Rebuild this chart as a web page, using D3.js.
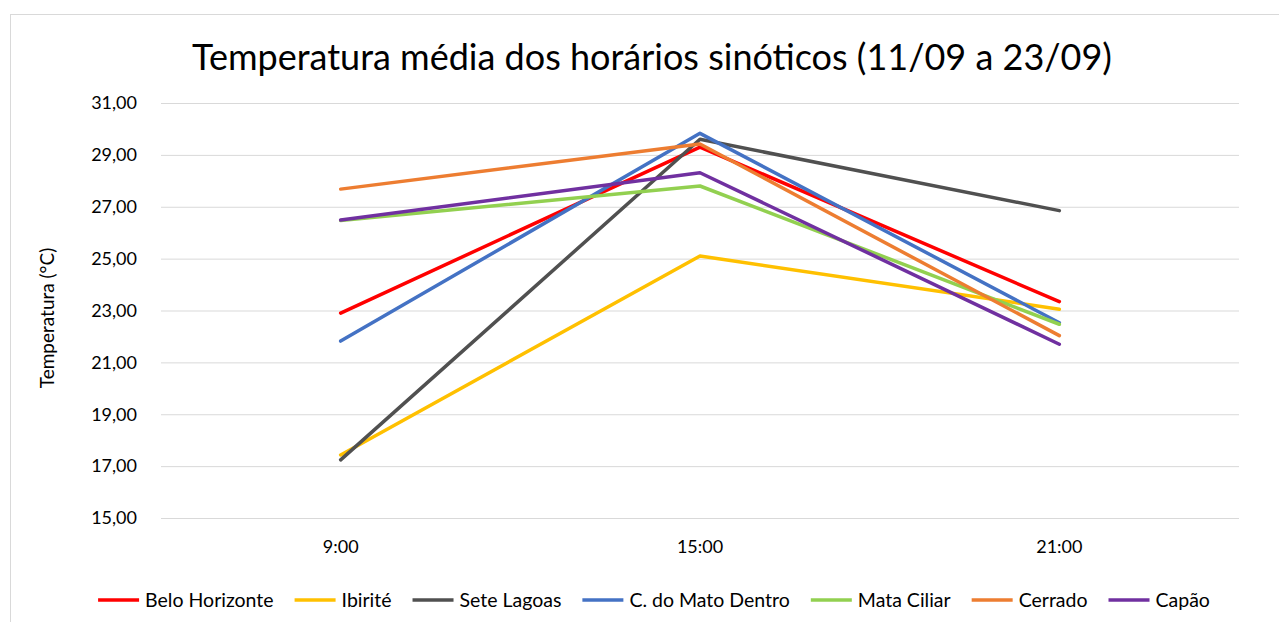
<!DOCTYPE html>
<html>
<head>
<meta charset="utf-8">
<script src="https://cdn.jsdelivr.net/npm/d3@7"></script>
<style>
  body { margin: 0; background: #fff; }
  svg text { font-family: Lato, "Open Sans", sans-serif; fill: #000; }
</style>
</head>
<body>
<svg id="chart" width="1279" height="622"></svg>
<script>
// data
const hours = ["9:00", "15:00", "21:00"];
const yTicks = [15, 17, 19, 21, 23, 25, 27, 29, 31];

const beloHorizonte = [22.90, 29.30, 23.34];
const ibirite = [17.43, 25.10, 23.05];
const seteLagoas = [17.24, 29.60, 26.85];
const matoDentro = [21.82, 29.83, 22.53];
const mataCiliar = [26.47, 27.80, 22.47];
const cerrado = [27.68, 29.42, 22.03];
const capao = [26.49, 28.31, 21.70];

const seriesNames = ["Belo Horizonte", "Ibirité", "Sete Lagoas", "C. do Mato Dentro", "Mata Ciliar", "Cerrado", "Capão"];
const seriesValues = [beloHorizonte, ibirite, seteLagoas, matoDentro, mataCiliar, cerrado, capao];
const seriesColors = ["#ff0000", "#ffc000", "#505050", "#4472c4", "#92d050", "#ed7d31", "#7030a0"];

const series = seriesNames.map((name, i) => ({
  name,
  color: seriesColors[i],
  values: seriesValues[i].map((v, j) => ({ hour: hours[j], v })),
}));

// settings
const margin = { top: 103, right: 40, bottom: 104, left: 161 };
const width = 1279;
const height = 622;
const plotWidth = width - margin.left - margin.right;
const plotHeight = height - margin.top - margin.bottom;

const svg = d3.select("#chart");

// chart border
svg.append("rect")
  .attr("x", 10.5)
  .attr("y", 14.5)
  .attr("width", width)
  .attr("height", height)
  .attr("fill", "none")
  .attr("stroke", "#d9d9d9");

const plot = svg.append("g")
  .attr("transform", `translate(${margin.left}, ${margin.top})`);

// scales, axes
const xScale = d3.scaleBand().domain(hours).range([0, plotWidth]);
const yScale = d3.scaleLinear().domain([15, 31]).range([plotHeight, 0]);

const fmt = (d) => d.toFixed(2).replace(".", ",");

const yAxis = d3.axisLeft(yScale)
  .tickValues(yTicks)
  .tickSize(-plotWidth)
  .tickPadding(24)
  .tickFormat(fmt);

const yAxisG = plot.append("g").call(yAxis);
yAxisG.select(".domain").remove();
yAxisG.selectAll(".tick line").attr("stroke", "#d9d9d9").attr("stroke-width", 1);
yAxisG.selectAll(".tick text").attr("font-size", 18).attr("fill", "#000");

const xAxis = d3.axisBottom(xScale).tickSize(0).tickPadding(22);
const xAxisG = plot.append("g")
  .attr("transform", `translate(0, ${plotHeight})`)
  .call(xAxis);
xAxisG.select(".domain").remove();
xAxisG.selectAll(".tick text").attr("font-size", 18).attr("fill", "#000");

// lines
const lineGen = d3.line()
  .x((d) => xScale(d.hour) + xScale.bandwidth() / 2)
  .y((d) => yScale(d.v));

plot.selectAll(".line")
  .data(series)
  .join("path")
  .attr("class", "line")
  .attr("fill", "none")
  .attr("stroke", (d) => d.color)
  .attr("stroke-width", 3.5)
  .attr("stroke-linejoin", "round")
  .attr("stroke-linecap", "round")
  .attr("d", (d) => lineGen(d.values));

// title
svg.append("text")
  .attr("x", 652)
  .attr("y", 70)
  .attr("text-anchor", "middle")
  .attr("font-size", 36)
  .text("Temperatura média dos horários sinóticos (11/09 a 23/09)");

// y title
svg.append("text")
  .attr("transform", `translate(54, ${margin.top + 215}) rotate(-90)`)
  .attr("text-anchor", "middle")
  .attr("font-size", 19)
  .text("Temperatura (°C)");

// legend
const legend = svg.append("g");
const swatch = 41;
let lx = 0;
series.forEach((s) => {
  const item = legend.append("g").attr("transform", `translate(${lx}, 0)`);
  item.append("line")
    .attr("x1", 0).attr("x2", swatch)
    .attr("y1", 0).attr("y2", 0)
    .attr("stroke", s.color)
    .attr("stroke-width", 3.5);
  const t = item.append("text")
    .attr("x", swatch + 6)
    .attr("y", 7)
    .attr("font-size", 19.5)
    .text(s.name);
  lx += swatch + 6 + t.node().getComputedTextLength() + 21;
});
lx -= 21;
legend.attr("transform", `translate(${654 - lx / 2}, 600)`);
</script>
</body>
</html>
